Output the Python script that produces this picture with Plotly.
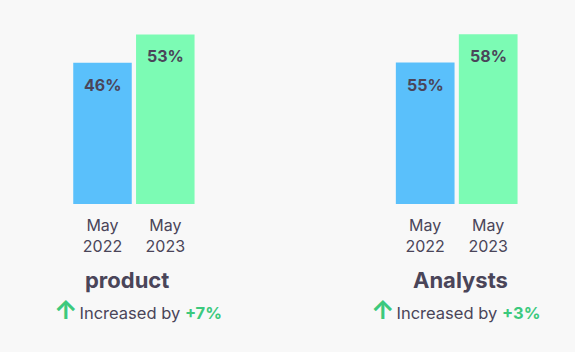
import plotly.graph_objects as go

periods = ["May<br>2022", "May<br>2023"]
groups = ["product", "Analysts"]
values_product = [46, 53]
values_analysts = [55, 58]
changes = ["+7%", "+3%"]

BLUE = "#5ac0fb"
GREEN = "#7cfbb4"
DARK = "#4a4559"
ACCENT = "#3cc97d"
BG = "#f8f8f8"
FONT = "Inter"

W, H = 575, 352
def px(x):
    return x / W
def py(y):
    return 1 - y / H

fig = go.Figure()
series = [values_product, values_analysts]
cats = ["a", "b"]
for i, vals in enumerate(series):
    xa = "x" if i == 0 else "x2"
    ya = "y" if i == 0 else "y2"
    fig.add_trace(go.Bar(
        x=cats, y=vals, xaxis=xa, yaxis=ya,
        marker=dict(color=[BLUE, GREEN], line=dict(width=0)),
        hoverinfo="skip", showlegend=False,
    ))
    for c, v in zip(cats, vals):
        fig.add_annotation(
            x=c, y=v, xref=xa, yref=ya, text=f"<b>{v}%</b>",
            showarrow=False, yanchor="middle", yshift=-22,
            font=dict(family=FONT, size=16, color=DARK),
        )

bottom = 204
dom_y = [py(bottom), 1]
tick_style = dict(showgrid=False, zeroline=False, showline=False, ticks="",
                  tickfont=dict(size=16, color=DARK, family=FONT), fixedrange=True,
                  ticklabelstandoff=10, range=[-0.5, 1.5], tickvals=cats, ticktext=periods)
fig.update_layout(
    width=W, height=H, margin=dict(l=0, r=0, t=0, b=0),
    paper_bgcolor=BG, plot_bgcolor=BG, bargap=0.068,
    font=dict(family=FONT, color=DARK),
    xaxis=dict(domain=[px(71.1), px(196.7)], **tick_style),
    xaxis2=dict(domain=[px(393.7), px(519.7)], anchor="y2", **tick_style),
    yaxis=dict(domain=dom_y, range=[11.2, 61.5], visible=False, fixedrange=True),
    yaxis2=dict(domain=dom_y, range=[40.1, 61.6], visible=False, anchor="x2",
                fixedrange=True),
)

title_x = [126.5, 460.5]
change_x = [52, 369]
for g, tx, cx, ch in zip(groups, title_x, change_x, changes):
    fig.add_annotation(
        x=px(tx), y=py(280), xref="paper", yref="paper", text=f"<b>{g}</b>",
        showarrow=False, xanchor="center", yanchor="middle",
        font=dict(family=FONT, size=22, color=DARK),
    )
    fig.add_annotation(
        x=px(cx), y=py(309), xref="paper", yref="paper",
        text=(f"<span style='font-size:26px;color:{ACCENT}'><b>↑</b></span>"
              f"<span style='font-size:7px'> </span>"
              f"Increased by <span style='color:{ACCENT}'><b>{ch}</b></span>"),
        showarrow=False, xanchor="left", yanchor="middle",
        font=dict(family=FONT, size=16.5, color=DARK),
    )

fig.write_html("out.html")
